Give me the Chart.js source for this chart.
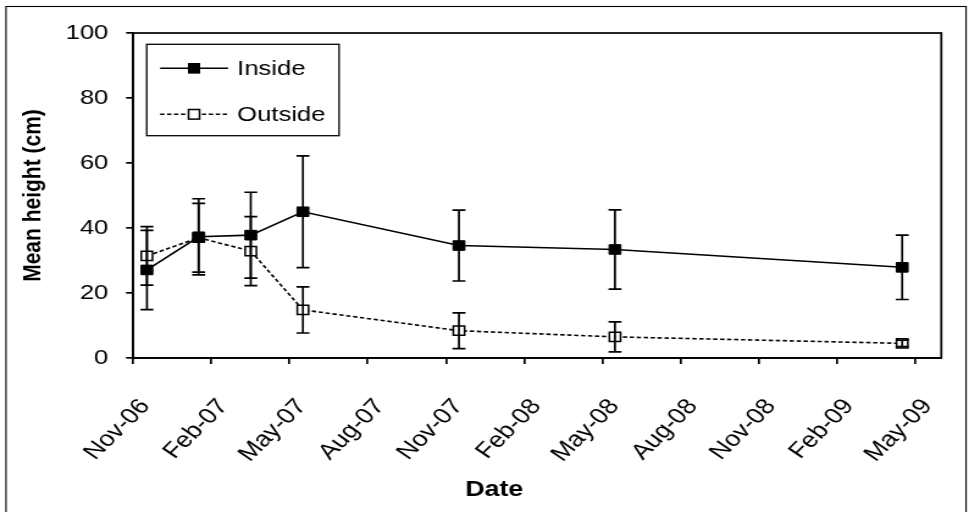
<!DOCTYPE html>
<html lang="en">
<head>
<meta charset="UTF-8">
<title>Mean height</title>
<script src="https://cdn.jsdelivr.net/npm/chart.js"></script>
<style>
    html, body { margin: 0; padding: 0; background: #fff; overflow: hidden; }
    /* the original figure is stretched sideways, so the whole chart is too */
    #wrap { position: absolute; left: 0; top: 0; width: 794px; height: 512px; transform: scaleX(1.2204); transform-origin: 0 0; }
</style>
</head>
<body>
<div id="wrap"><canvas id="grafico"></canvas></div>
<script>
    // sampling dates and values
    const sampleDates = ['2006-11-17', '2007-01-17', '2007-03-17', '2007-05-17', '2007-11-16', '2008-05-16', '2009-04-16'];
    const insideMean = [27.1, 37.3, 37.8, 45.0, 34.6, 33.4, 27.9];
    const insideErr = [12.2, 11.7, 13.2, 17.2, 10.9, 12.2, 9.9];
    const outsideMean = [31.4, 37.0, 32.9, 14.8, 8.4, 6.5, 4.5];
    const outsideErr = [9.0, 10.6, 10.6, 7.1, 5.5, 4.6, 1.0];
    const seriesNames = ['Inside', 'Outside'];
    const xTickLabels = ['Nov-06', 'Feb-07', 'May-07', 'Aug-07', 'Nov-07', 'Feb-08', 'May-08', 'Aug-08', 'Nov-08', 'Feb-09', 'May-09'];
    const yTicks = [0, 20, 40, 60, 80, 100];
    const xTitle = 'Date';

    // months counted from 1 Nov 2006, so every month is the same width
    function monthsFromStart(iso) {
        const [y, m, d] = iso.split('-').map(Number);
        const daysInMonth = new Date(Date.UTC(y, m, 0)).getUTCDate();
        return (y - 2006) * 12 + (m - 1) - 10 + (d - 1) / daysInMonth;
    }

    function toPoints(values) {
        return values.map((v, i) => ({ x: monthsFromStart(sampleDates[i]), y: v }));
    }

    const FONT = '"Liberation Sans", Arial, sans-serif';
    Chart.defaults.font.family = FONT;
    Chart.defaults.font.size = 21;
    Chart.defaults.color = '#000';

    const extras = {
        id: 'extras',
        beforeDraw(chart) {
            const ctx = chart.ctx;
            ctx.save();
            ctx.fillStyle = '#fff';
            ctx.fillRect(0, 0, chart.width, chart.height);
            ctx.restore();
        },
        afterDatasetsDraw(chart) {
            const { ctx, scales: { x, y } } = chart;
            ctx.save();
            ctx.strokeStyle = '#000';
            ctx.lineWidth = 1.7;
            ctx.setLineDash([]);
            chart.data.datasets.forEach(ds => {
                ds.data.forEach((p, i) => {
                    const e = ds.errors[i];
                    const px = x.getPixelForValue(p.x);
                    const top = y.getPixelForValue(p.y + e);
                    const bot = y.getPixelForValue(p.y - e);
                    ctx.beginPath();
                    ctx.moveTo(px, top); ctx.lineTo(px, bot);
                    ctx.moveTo(px - 5.3, top); ctx.lineTo(px + 5.3, top);
                    ctx.moveTo(px - 5.3, bot); ctx.lineTo(px + 5.3, bot);
                    ctx.stroke();
                });
            });
            ctx.restore();
        },
        afterDraw(chart) {
            const ctx = chart.ctx;
            const ca = chart.chartArea;
            ctx.save();
            ctx.strokeStyle = '#000';

            // plot frame
            ctx.lineWidth = 1.7;
            ctx.strokeRect(ca.left, ca.top, ca.right - ca.left, ca.bottom - ca.top);

            // legend box
            const bx = ca.left + 11.2, by = ca.top + 11.3, bw = 157.6, bh = 91.4;
            ctx.lineWidth = 1.3;
            ctx.fillStyle = '#fff';
            ctx.fillRect(bx, by, bw, bh);
            ctx.strokeRect(bx, by, bw, bh);
            chart.data.datasets.forEach((ds, i) => {
                const cy = by + 24 + i * 46;
                ctx.lineWidth = ds.borderWidth;
                ctx.setLineDash(ds.borderDash || []);
                ctx.beginPath();
                ctx.moveTo(bx + 11, cy);
                ctx.lineTo(bx + 66.7, cy);
                ctx.stroke();
                ctx.setLineDash([]);
                ctx.fillStyle = ds.pointBackgroundColor;
                ctx.fillRect(bx + 38.8 - 4.5, cy - 4.8, 9, 9.6);
                ctx.lineWidth = ds.pointBorderWidth;
                ctx.strokeRect(bx + 38.8 - 4.5, cy - 4.8, 9, 9.6);
                ctx.fillStyle = '#000';
                ctx.font = '21px ' + FONT;
                ctx.textBaseline = 'middle';
                ctx.textAlign = 'left';
                ctx.fillText(ds.label, bx + 74.1, cy + 1);
            });

            // x axis title, centred where the original puts it
            ctx.fillStyle = '#000';
            ctx.font = 'bold 22px ' + FONT;
            ctx.textAlign = 'center';
            ctx.textBaseline = 'middle';
            ctx.fillText(xTitle, 405, 490);

            // outer border (its bottom edge is off the picture)
            ctx.lineWidth = 1.1;
            ctx.strokeRect(4.9, 6.5, 786.7, 510);
            ctx.restore();
        }
    };

    new Chart(document.getElementById('grafico'), {
        type: 'line',
        data: {
            datasets: [{
                label: seriesNames[0],
                data: toPoints(insideMean),
                errors: insideErr,
                borderColor: '#000',
                borderWidth: 1.6,
                pointStyle: 'rect',
                pointRadius: 6.8,
                pointBackgroundColor: '#000',
                pointBorderColor: '#000',
                pointBorderWidth: 1,
                tension: 0
            }, {
                label: seriesNames[1],
                data: toPoints(outsideMean),
                errors: outsideErr,
                borderColor: '#000',
                borderWidth: 1.6,
                borderDash: [3.5, 2.2],
                pointStyle: 'rect',
                pointRadius: 6.5,
                pointBackgroundColor: '#fff',
                pointBorderColor: '#000',
                pointBorderWidth: 1.5,
                tension: 0
            }]
        },
        options: {
            responsive: true,
            maintainAspectRatio: false,
            animation: false,
            events: [],
            layout: { padding: { top: 33, right: 22.7, left: 0, bottom: 0 } },
            plugins: {
                legend: { display: false },
                tooltip: { enabled: false }
            },
            scales: {
                x: {
                    type: 'linear',
                    min: 0,
                    max: 31,
                    afterFit(scale) {
                        scale.height = 154;
                        scale.paddingLeft = 0;
                        scale.paddingRight = 0;
                    },
                    grid: { drawOnChartArea: false, drawTicks: true, tickLength: 6, color: '#000', lineWidth: 1.7 },
                    border: { display: true, color: '#000', width: 1.7 },
                    ticks: {
                        stepSize: 3,
                        includeBounds: false,
                        autoSkip: false,
                        minRotation: 50,
                        maxRotation: 50,
                        padding: 30,
                        labelOffset: 10,
                        font: { size: 22 },
                        callback: (value, index) => xTickLabels[index]
                    },
                    title: { display: false }
                },
                y: {
                    min: 0,
                    max: 100,
                    afterFit(scale) {
                        scale.width = 109;
                        scale.paddingTop = 0;
                        scale.paddingBottom = 0;
                    },
                    afterBuildTicks(scale) { scale.ticks = yTicks.map(v => ({ value: v })); },
                    grid: { drawOnChartArea: false, drawTicks: true, tickLength: 5.7, color: '#000', lineWidth: 1.7 },
                    border: { display: true, color: '#000', width: 1.7 },
                    ticks: { padding: 14.5 },
                    title: {
                        display: true,
                        text: 'Mean height (cm)',
                        font: { size: 21, weight: 'bold' },
                        padding: { top: 15, bottom: 0 }
                    }
                }
            }
        },
        plugins: [extras]
    });
</script>
</body>
</html>
